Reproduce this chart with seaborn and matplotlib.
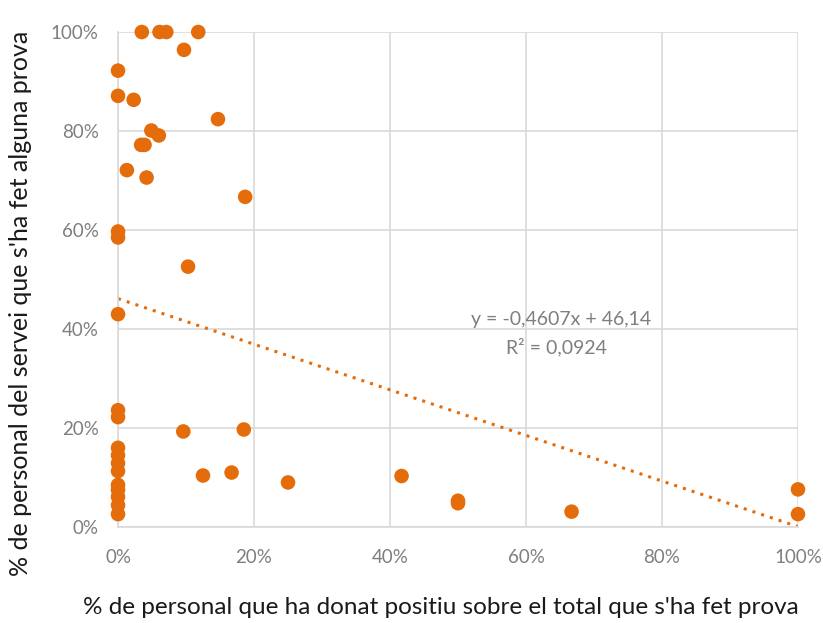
import matplotlib
matplotlib.use("Agg")
import matplotlib.pyplot as plt
import pandas as pd
import seaborn as sns
from matplotlib.ticker import PercentFormatter

# % positius sobre el total testat (x) i % del servei testat (y)
positius = [3.5, 6.1, 7.1, 11.8, 9.7, 0, 0, 2.3, 14.7, 4.9, 6.0, 3.4, 3.9, 1.3,
            4.2, 18.7, 0, 0, 10.3, 0, 0, 0, 9.6, 18.5,
            0, 0, 0, 0, 0, 0, 0, 0, 0,
            12.5, 16.7, 25.0, 41.7, 50.0, 50.0, 66.7, 100, 100]
testats = [100, 100, 100, 100, 96.4, 92.2, 87.1, 86.3, 82.4, 80.1, 79.1, 77.2, 77.2, 72.1,
           70.6, 66.7, 59.7, 58.5, 52.6, 43.0, 23.6, 22.2, 19.3, 19.7,
           16.0, 14.5, 12.9, 11.3, 8.5, 7.5, 6.1, 4.4, 2.6,
           10.4, 11.0, 9.0, 10.3, 5.3, 4.8, 3.1, 7.6, 2.6]

# linia de tendencia (Excel)
pendent = -0.4607
ordenada = 46.14
r2 = 0.0924

df = pd.DataFrame({"x": positius, "y": testats})
taronja = "#E46C0A"
gris = "#7F7F7F"

sns.set_theme(style="white")
plt.rcParams["font.family"] = ["Lato", "DejaVu Sans"]

fig, ax = plt.subplots(figsize=(8.23, 6.23), dpi=100)
fig.subplots_adjust(left=0.1434, right=0.9696, top=0.9486, bottom=0.1541)

sns.scatterplot(data=df, x="x", y="y", color=taronja, s=110, edgecolor="none",
                ax=ax, zorder=3, clip_on=False)

xs = pd.Series([0, 100])
ax.plot(xs, pendent * xs + ordenada, linestyle=(0, (1, 2)), color=taronja,
        linewidth=2.2, zorder=2)

# etiqueta de la linia de tendencia (coordenades en pixels de la figura)
ax.text(561, 623 - 320, "y = -0,4607x + 46,14", ha="center", va="center",
        fontsize=14, color=gris, transform=None)
ax.text(556, 623 - 347, "R² = 0,0924", ha="center", va="center",
        fontsize=14, color=gris, transform=None)

ax.set_xlim(0, 100)
ax.set_ylim(0, 100)
ax.set_xticks(range(0, 101, 20))
ax.set_yticks(range(0, 101, 20))
ax.xaxis.set_major_formatter(PercentFormatter(decimals=0))
ax.yaxis.set_major_formatter(PercentFormatter(decimals=0))
ax.grid(True, color="#D9D9D9", linewidth=1.2)
ax.set_axisbelow(True)
for side in ["top", "right"]:
    ax.spines[side].set_visible(False)
for side in ["left", "bottom"]:
    ax.spines[side].set_color("#D9D9D9")
    ax.spines[side].set_linewidth(1.2)
ax.tick_params(axis="both", colors=gris, labelsize=13.5, length=0)
ax.tick_params(axis="x", pad=16)
ax.tick_params(axis="y", pad=14)

ax.set_xlabel("% de personal que ha donat positiu sobre el total que s'ha fet prova",
              fontsize=17.5, color="#1a1a1a")
ax.set_ylabel("% de personal del servei que s'ha fet alguna prova",
              fontsize=18, color="#1a1a1a")
ax.xaxis.set_label_coords(0.475, -0.142)
ax.yaxis.set_label_coords(-0.127, 0.452)

fig.savefig("out.png", dpi=100)
